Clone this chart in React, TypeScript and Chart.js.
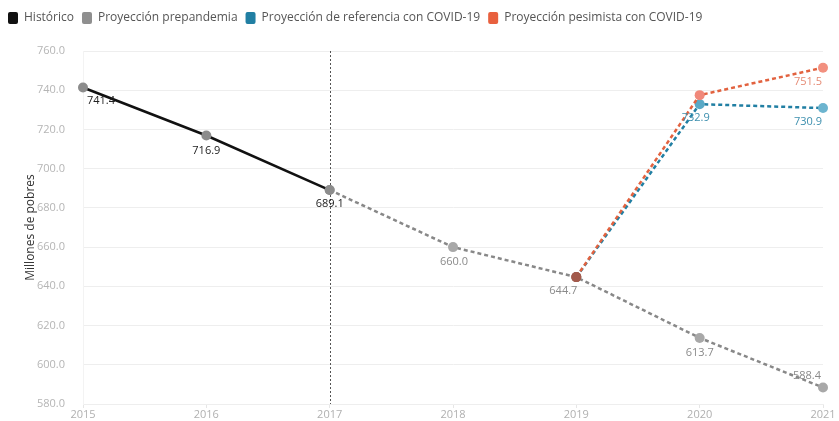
import React, { useEffect, useRef } from "react";
import { Chart, registerables } from "chart.js";

Chart.register(...registerables);

const years = ["2015", "2016", "2017", "2018", "2019", "2020", "2021"];
const historico = [741.4, 716.9, 689.1, null, null, null, null];
const prepandemia = [null, null, 689.1, 660.0, 644.7, 613.7, 588.4];
const referencia = [null, null, null, null, 644.7, 732.9, 730.9];
const pesimista = [null, null, null, null, 644.7, 737.5, 751.5];
const yTicks = [580, 600, 620, 640, 660, 680, 700, 720, 740, 760];
const seriesNames = [
  "Histórico",
  "Proyección prepandemia",
  "Proyección de referencia con COVID-19",
  "Proyección pesimista con COVID-19",
];
const yTitle = "Millones de pobres";
const markerYearIndex = 2;

// which points get a value label, per dataset, with offsets (styling)
const labelSpec: { ds: number; idx: number; dx: number; dy: number }[] = [
  { ds: 0, idx: 0, dx: 18, dy: 13 },
  { ds: 0, idx: 1, dx: 0, dy: 15 },
  { ds: 0, idx: 2, dx: 0, dy: 14 },
  { ds: 1, idx: 3, dx: 1, dy: 15 },
  { ds: 1, idx: 4, dx: -13, dy: 14 },
  { ds: 1, idx: 5, dx: 0, dy: 15 },
  { ds: 1, idx: 6, dx: -16, dy: -12 },
  { ds: 2, idx: 5, dx: -4, dy: 14 },
  { ds: 2, idx: 6, dx: -15, dy: 14 },
  { ds: 3, idx: 6, dx: -15, dy: 14 },
];
const labelColors = ["#222222", "#8a8a8a", "#3d8fae", "#e58a74"];
const legendColors = ["#111111", "#8f8f8f", "#217fa3", "#e8603e"];

const overlayPlugin = {
  id: "overlay",
  beforeDatasetsDraw(chart: any) {
    const { ctx, chartArea, scales } = chart;
    const x = scales.x.getPixelForValue(markerYearIndex);
    ctx.save();
    ctx.strokeStyle = "#555";
    ctx.lineWidth = 1;
    ctx.setLineDash([2, 2]);
    ctx.beginPath();
    ctx.moveTo(Math.round(x) + 0.5, chartArea.top);
    ctx.lineTo(Math.round(x) + 0.5, chartArea.bottom);
    ctx.stroke();
    ctx.restore();
  },
  afterDatasetsDraw(chart: any) {
    const { ctx, scales } = chart;
    ctx.save();
    ctx.font = "11px 'Open Sans', sans-serif";
    ctx.textAlign = "center";
    ctx.textBaseline = "middle";
    labelSpec.forEach((l) => {
      const v = chart.data.datasets[l.ds].data[l.idx] as number;
      const px = scales.x.getPixelForValue(l.idx);
      const py = scales.y.getPixelForValue(v);
      ctx.fillStyle = labelColors[l.ds];
      ctx.fillText(v.toFixed(1), px + l.dx, py + l.dy);
    });
    ctx.restore();
  },
};

const legendHeightPlugin = {
  id: "legendHeight",
  beforeInit(chart: any) {
    const orig = chart.legend.fit;
    chart.legend.fit = function () {
      orig.bind(this)();
      this.height = 47;
    };
  },
};

export default function App() {
  const ref = useRef<HTMLCanvasElement>(null);
  useEffect(() => {
    if (!ref.current) return;
    const chart = new Chart(ref.current, {
      type: "line",
      data: {
        labels: years,
        datasets: [
          { label: seriesNames[0], data: historico, borderColor: "#111111", backgroundColor: "#111111", borderWidth: 2.5, pointRadius: 5, pointBackgroundColor: "#8c8c8c", pointBorderWidth: 0, order: 2 },
          { label: seriesNames[1], data: prepandemia, borderColor: "#888888", backgroundColor: "#8f8f8f", borderWidth: 2.5, borderDash: [4, 3], pointRadius: 5, pointBackgroundColor: "#a8a8a8", pointBorderWidth: 0, order: 3 },
          { label: seriesNames[2], data: referencia, borderColor: "#217fa3", backgroundColor: "#217fa3", borderWidth: 2.5, borderDash: [4, 3], pointRadius: 5, pointBackgroundColor: ["#a35a4c", "#a35a4c", "#a35a4c", "#a35a4c", "#a35a4c", "#5aa9c6", "#6cb4cf"], pointBorderWidth: 0, order: 1 },
          { label: seriesNames[3], data: pesimista, borderColor: "#e2623f", backgroundColor: "#e8603e", borderWidth: 2.5, borderDash: [4, 3], pointRadius: 5, pointBackgroundColor: ["#a35a4c", "#a35a4c", "#a35a4c", "#a35a4c", "#a35a4c", "#f0887a", "#f2907f"], pointBorderWidth: 0, order: 0 },
        ],
      },
      options: {
        animation: false,
        responsive: true,
        maintainAspectRatio: false,
        layout: { padding: { left: 0, right: 16, top: 4, bottom: 0 } },
        plugins: {
          tooltip: { enabled: false },
          legend: {
            position: "top",
            align: "start",
            labels: {
              boxWidth: 10, boxHeight: 12, padding: 8, useBorderRadius: true, borderRadius: 2, color: "#555",
              font: { family: "'Open Sans', sans-serif", size: 12 },
              generateLabels: (chart: any) =>
                chart.data.datasets.map((ds: any, i: number) => ({
                  text: ds.label, fillStyle: legendColors[i], strokeStyle: legendColors[i], lineWidth: 0, lineDash: [],
                  fontColor: "#555", hidden: false, datasetIndex: i, borderRadius: 2,
                })),
            },
          },
        },
        scales: {
          x: {
            type: "category",
            offset: false,
            afterFit(scale: any) { scale.height = 17; },
            grid: { drawOnChartArea: false, drawTicks: true, tickLength: 4, tickColor: "#e6e6e6" },
            border: { color: "#eeeeee" },
            ticks: { color: "#b0b0b0", padding: 0, maxRotation: 0, autoSkip: false, font: { family: "'Open Sans', sans-serif", size: 11 } },
          },
          y: {
            min: 580,
            max: 760,
            afterBuildTicks(scale: any) { scale.ticks = yTicks.map((v) => ({ value: v })); },
            afterFit(scale: any) { scale.width = 83; },
            grid: { color: "#eeeeee", drawTicks: true, tickLength: 18, tickColor: "rgba(0,0,0,0)" },
            border: { color: "#f3f3f3" },
            ticks: { color: "#b5b5b5", padding: 0, font: { family: "'Open Sans', sans-serif", size: 11 }, callback: (v: any) => Number(v).toFixed(1) },
            title: { display: true, text: yTitle, color: "#333", padding: { top: 23, bottom: 0 }, font: { family: "'Open Sans', sans-serif", size: 12 } },
          },
        },
      },
      plugins: [overlayPlugin, legendHeightPlugin],
    });
    return () => chart.destroy();
  }, []);
  return (
    <div style={{ position: "fixed", left: 0, top: 0, width: 839, height: 421, background: "#fff" }}>
      <canvas ref={ref} />
    </div>
  );
}
